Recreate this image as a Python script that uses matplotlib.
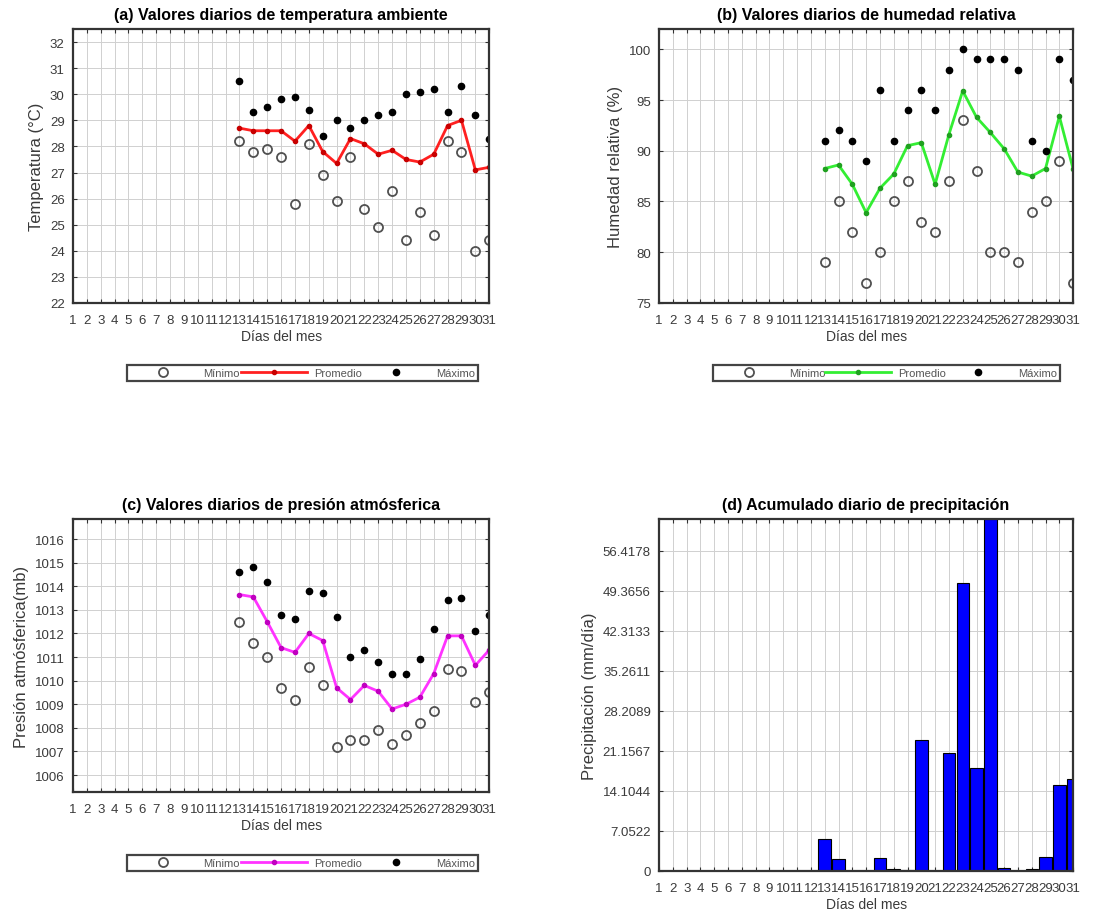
import numpy as np
import matplotlib
matplotlib.use("Agg")
import matplotlib.pyplot as plt

plt.rcParams['font.family'] = ['Liberation Sans', 'DejaVu Sans']

# Días del mes
all_days = list(range(1, 32))
days = list(range(13, 32))

# (a) Temperatura (°C)
temp_min = [28.2, 27.8, 27.9, 27.6, 25.8, 28.1, 26.9, 25.9, 27.6, 25.6,
            24.9, 26.3, 24.4, 25.5, 24.6, 28.2, 27.8, 24.0, 24.4]
temp_mean = [28.7, 28.6, 28.6, 28.6, 28.2, 28.8, 27.8, 27.35, 28.3, 28.1,
             27.7, 27.85, 27.5, 27.4, 27.7, 28.8, 29.0, 27.1, 27.2]
temp_max = [30.5, 29.3, 29.5, 29.8, 29.9, 29.4, 28.4, 29.0, 28.7, 29.0,
            29.2, 29.3, 30.0, 30.1, 30.2, 29.3, 30.3, 29.2, 28.3]

# (b) Humedad relativa (%)
hum_min = [79, 85, 82, 77, 80, 85, 87, 83, 82, 87,
           93, 88, 80, 80, 79, 84, 85, 89, 77]
hum_mean = [88.25, 88.6, 86.7, 83.9, 86.3, 87.7, 90.5, 90.8, 86.7, 91.6,
            95.9, 93.3, 91.8, 90.2, 87.9, 87.5, 88.25, 93.4, 88.2]
hum_max = [91, 92, 91, 89, 96, 91, 94, 96, 94, 98,
           100, 99, 99, 99, 98, 91, 90, 99, 97]

# (c) Presión atmosférica (mb)
pres_min = [1012.5, 1011.6, 1011.0, 1009.7, 1009.2, 1010.6, 1009.8, 1007.2, 1007.5, 1007.5,
            1007.9, 1007.3, 1007.7, 1008.2, 1008.7, 1010.5, 1010.4, 1009.1, 1009.5]
pres_mean = [1013.65, 1013.55, 1012.5, 1011.4, 1011.2, 1012.0, 1011.7, 1009.7, 1009.2, 1009.8,
             1009.55, 1008.8, 1009.0, 1009.3, 1010.3, 1011.9, 1011.9, 1010.65, 1011.3]
pres_max = [1014.6, 1014.8, 1014.2, 1012.8, 1012.6, 1013.8, 1013.7, 1012.7, 1011.0, 1011.3,
            1010.8, 1010.3, 1010.3, 1010.9, 1012.2, 1013.4, 1013.5, 1012.1, 1012.8]

# (d) Precipitación (mm/día)
precip = [5.7, 2.05, 0, 0, 2.2, 0.3, 0.2, 23.1, 0, 20.7,
          50.7, 18.1, 62.0, 0.6, 0, 0.3, 2.5, 15.2, 16.2]
precip_ticks = [0, 7.0522, 14.1044, 21.1567, 28.2089, 35.2611, 42.3133, 49.3656, 56.4178]
precip_ticklabels = ['0', '7.0522', '14.1044', '21.1567', '28.2089',
                     '35.2611', '42.3133', '49.3656', '56.4178']

legend_labels = ['Mínimo', 'Promedio', 'Máximo']

fig = plt.figure(figsize=(11.19, 9.2), dpi=100)

ax_a = fig.add_axes([0.0652, 0.6696, 0.372, 0.2978])
ax_b = fig.add_axes([0.589, 0.6696, 0.370, 0.2978])
ax_c = fig.add_axes([0.0652, 0.138, 0.372, 0.2967])
ax_d = fig.add_axes([0.589, 0.0522, 0.370, 0.3826])


def style_axes(ax, title, ylabel):
    ax.set_xlim(1, 31)
    ax.set_xticks(all_days)
    ax.set_xticklabels([str(d) for d in all_days])
    ax.tick_params(direction='in', top=True, right=True, length=3, width=0.8,
                   color='#333333', labelcolor='#3a3a3a', labelsize=9.5)
    ax.tick_params(axis='x', pad=8)
    ax.tick_params(axis='y', pad=6)
    ax.grid(True, color='#d0d0d0', lw=0.7)
    ax.set_axisbelow(True)
    for s in ax.spines.values():
        s.set_linewidth(1.6)
        s.set_color('#333333')
    ax.set_title(title, fontsize=11.5, fontweight='bold', pad=7)
    ax.set_xlabel('Días del mes', fontsize=10, color='#3a3a3a', labelpad=2)
    ax.set_ylabel(ylabel, fontsize=12, color='#3a3a3a')


def plot_series(ax, vmin, vmean, vmax, line_c, dot_c, legend_box):
    h1, = ax.plot(days, vmin, ls='none', marker='o', ms=6.5, mfc='none',
                  mec='#505050', mew=1.3)
    h2, = ax.plot(days, vmean, color=line_c, lw=2.0, marker='.', ms=6,
                  mfc=dot_c, mec=dot_c)
    h3, = ax.plot(days, vmax, ls='none', marker='o', ms=4.5, mfc='black',
                  mec='black')
    leg = ax.legend([h1, h2, h3], legend_labels, ncol=3, mode='expand',
                    loc='lower left', bbox_to_anchor=legend_box,
                    bbox_transform=fig.transFigure, fontsize=8,
                    handlelength=6, handletextpad=0.6, borderpad=0.25,
                    borderaxespad=0, fancybox=False, framealpha=1,
                    edgecolor='#444444')
    leg.get_frame().set_linewidth(1.6)
    for t in leg.get_texts():
        t.set_color('#555555')


# (a)
style_axes(ax_a, '(a) Valores diarios de temperatura ambiente', 'Temperatura (°C)')
ax_a.set_ylim(22, 32.5)
ax_a.set_yticks(range(22, 33))
plot_series(ax_a, temp_min, temp_mean, temp_max, '#ff2020', '#c80000',
            (0.1135, 0.5848, 0.3137, 0.0185))

# (b)
style_axes(ax_b, '(b) Valores diarios de humedad relativa', 'Humedad relativa (%)')
ax_b.set_ylim(75, 102)
ax_b.set_yticks(range(75, 101, 5))
plot_series(ax_b, hum_min, hum_mean, hum_max, '#33ee33', '#20a020',
            (0.6372, 0.5848, 0.310, 0.0185))

# (c)
style_axes(ax_c, '(c) Valores diarios de presión atmósferica', 'Presión atmósferica(mb)')
ax_c.set_ylim(1005.28, 1016.85)
ax_c.set_yticks(range(1006, 1017))
plot_series(ax_c, pres_min, pres_mean, pres_max, '#ff33ff', '#c000c0',
            (0.1135, 0.0522, 0.3137, 0.0185))

# (d)
style_axes(ax_d, '(d) Acumulado diario de precipitación', 'Precipitación (mm/día)')
ax_d.bar(days, precip, width=0.9, color='#0000ff', edgecolor='black', linewidth=0.8)
ax_d.set_ylim(0, 62)
ax_d.set_yticks(precip_ticks)
ax_d.set_yticklabels(precip_ticklabels)

fig.savefig('out.png', dpi=100)
